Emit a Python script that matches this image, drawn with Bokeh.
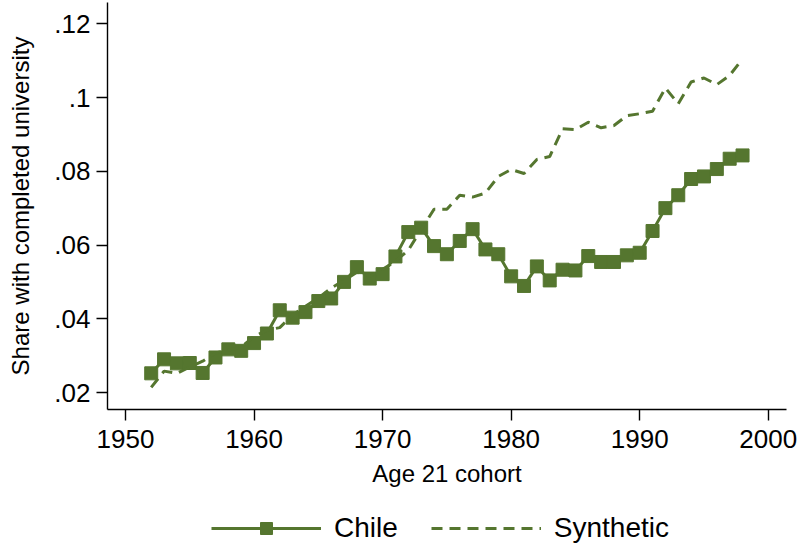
from bokeh.plotting import figure
from bokeh.layouts import column
from bokeh.models import Range1d, FixedTicker, Legend, LegendItem
from bokeh.embed import file_html
from bokeh.resources import INLINE

years = list(range(1952, 1999))
chile = [0.0252, 0.0290, 0.0279, 0.0280, 0.0253, 0.0295, 0.0317, 0.0313, 0.0334, 0.0360,
         0.0423, 0.0403, 0.0418, 0.0448, 0.0455, 0.0500, 0.0540, 0.0509, 0.0521, 0.0569,
         0.0635, 0.0647, 0.0597, 0.0575, 0.0611, 0.0643, 0.0588, 0.0575, 0.0515, 0.0489,
         0.0542, 0.0504, 0.0533, 0.0531, 0.0570, 0.0554, 0.0554, 0.0572, 0.0579, 0.0638,
         0.0700, 0.0735, 0.0779, 0.0786, 0.0806, 0.0834, 0.0843]
synthetic = [0.0214, 0.0258, 0.0252, 0.0269, 0.0285, 0.0307, 0.0315, 0.0323, 0.0352, 0.0369,
             0.0376, 0.0410, 0.0434, 0.0456, 0.0483, 0.0504, 0.0526, 0.0515, 0.0534, 0.0556,
             0.0586, 0.0642, 0.0697, 0.0697, 0.0735, 0.0730, 0.0741, 0.0786, 0.0805, 0.0794,
             0.0832, 0.0840, 0.0915, 0.0913, 0.0933, 0.0918, 0.0924, 0.0951, 0.0956, 0.0963,
             0.1026, 0.0983, 0.1042, 0.1053, 0.1035, 0.1060, 0.1105]

x_ticks = [1950, 1960, 1970, 1980, 1990, 2000]
y_ticks = [0.02, 0.04, 0.06, 0.08, 0.10, 0.12]
y_tick_labels = [".02", ".04", ".06", ".08", ".1", ".12"]

GREEN = "#55762f"
FONT = "Liberation Sans"

p = figure(width=805, height=509, output_backend="svg", toolbar_location=None,
           x_range=Range1d(1948.60, 2001.42), y_range=Range1d(0.01539, 0.12577),
           min_border_left=107, min_border_right=19, min_border_top=2, min_border_bottom=100)
p.outline_line_color = None
p.xgrid.visible = False
p.ygrid.visible = False
p.background_fill_color = "white"
p.border_fill_color = "white"

p.line(years, chile, line_color=GREEN, line_width=3)
p.scatter(years, chile, marker="square", size=13, fill_color=GREEN, line_color=GREEN)
p.line(years, synthetic, line_color=GREEN, line_width=3, line_dash="11 7")

for ax in (p.xaxis[0], p.yaxis[0]):
    ax.axis_line_color = "black"
    ax.axis_line_width = 1.4
    ax.major_tick_line_color = "black"
    ax.major_tick_line_width = 1.4
    ax.major_tick_in = 0
    ax.major_tick_out = 11
    ax.minor_tick_line_color = None
    ax.major_label_text_font = FONT
    ax.major_label_text_font_size = "26px"
    ax.major_label_text_color = "black"
    ax.axis_label_text_font = FONT
    ax.axis_label_text_font_size = "24px"
    ax.axis_label_text_font_style = "normal"
    ax.axis_label_text_color = "black"

p.xaxis.ticker = FixedTicker(ticks=x_ticks)
p.yaxis.ticker = FixedTicker(ticks=y_ticks)
p.yaxis.major_label_overrides = {t: l for t, l in zip(y_ticks, y_tick_labels)}
p.yaxis.major_label_orientation = "horizontal"
p.xaxis.major_label_standoff = 9
p.yaxis.major_label_standoff = 6
p.xaxis.axis_label = "Age 21 cohort"
p.yaxis.axis_label = "Share with completed university"
p.xaxis.axis_label_standoff = 9
p.yaxis.axis_label_standoff = 17

# legend panel below the plot; its renderers share the main plot's data,
# but are drawn outside this panel's visible range
lf = figure(width=805, height=35, output_backend="svg", toolbar_location=None,
            x_range=Range1d(0, 1), y_range=Range1d(0, 1),
            x_axis_location=None, y_axis_location=None,
            min_border_left=0, min_border_right=0, min_border_top=0, min_border_bottom=0)
lf.outline_line_color = None
lf.xgrid.visible = False
lf.ygrid.visible = False
lf.border_fill_color = "white"
lf.background_fill_color = "white"
k_line = lf.line(years, chile, line_color=GREEN, line_width=3)
k_mark = lf.scatter(years, chile, marker="square", size=12, fill_color=GREEN, line_color=GREEN)
k_syn = lf.line(years, synthetic, line_color=GREEN, line_width=3, line_dash="11 7")

legend = Legend(items=[LegendItem(label="Chile", renderers=[k_line, k_mark]),
                       LegendItem(label="Synthetic", renderers=[k_syn])],
                orientation="horizontal", location=(104, 0))
legend.glyph_width = 110
legend.glyph_height = 30
legend.label_standoff = 13
legend.spacing = 33
legend.padding = 0
legend.margin = 0
legend.border_line_color = None
legend.background_fill_alpha = 0
legend.label_text_font = FONT
legend.label_text_font_size = "28px"
legend.label_text_color = "black"
lf.add_layout(legend, "center")

layout = column(p, lf, spacing=0)
open("out.html", "w").write(file_html(layout, INLINE))
